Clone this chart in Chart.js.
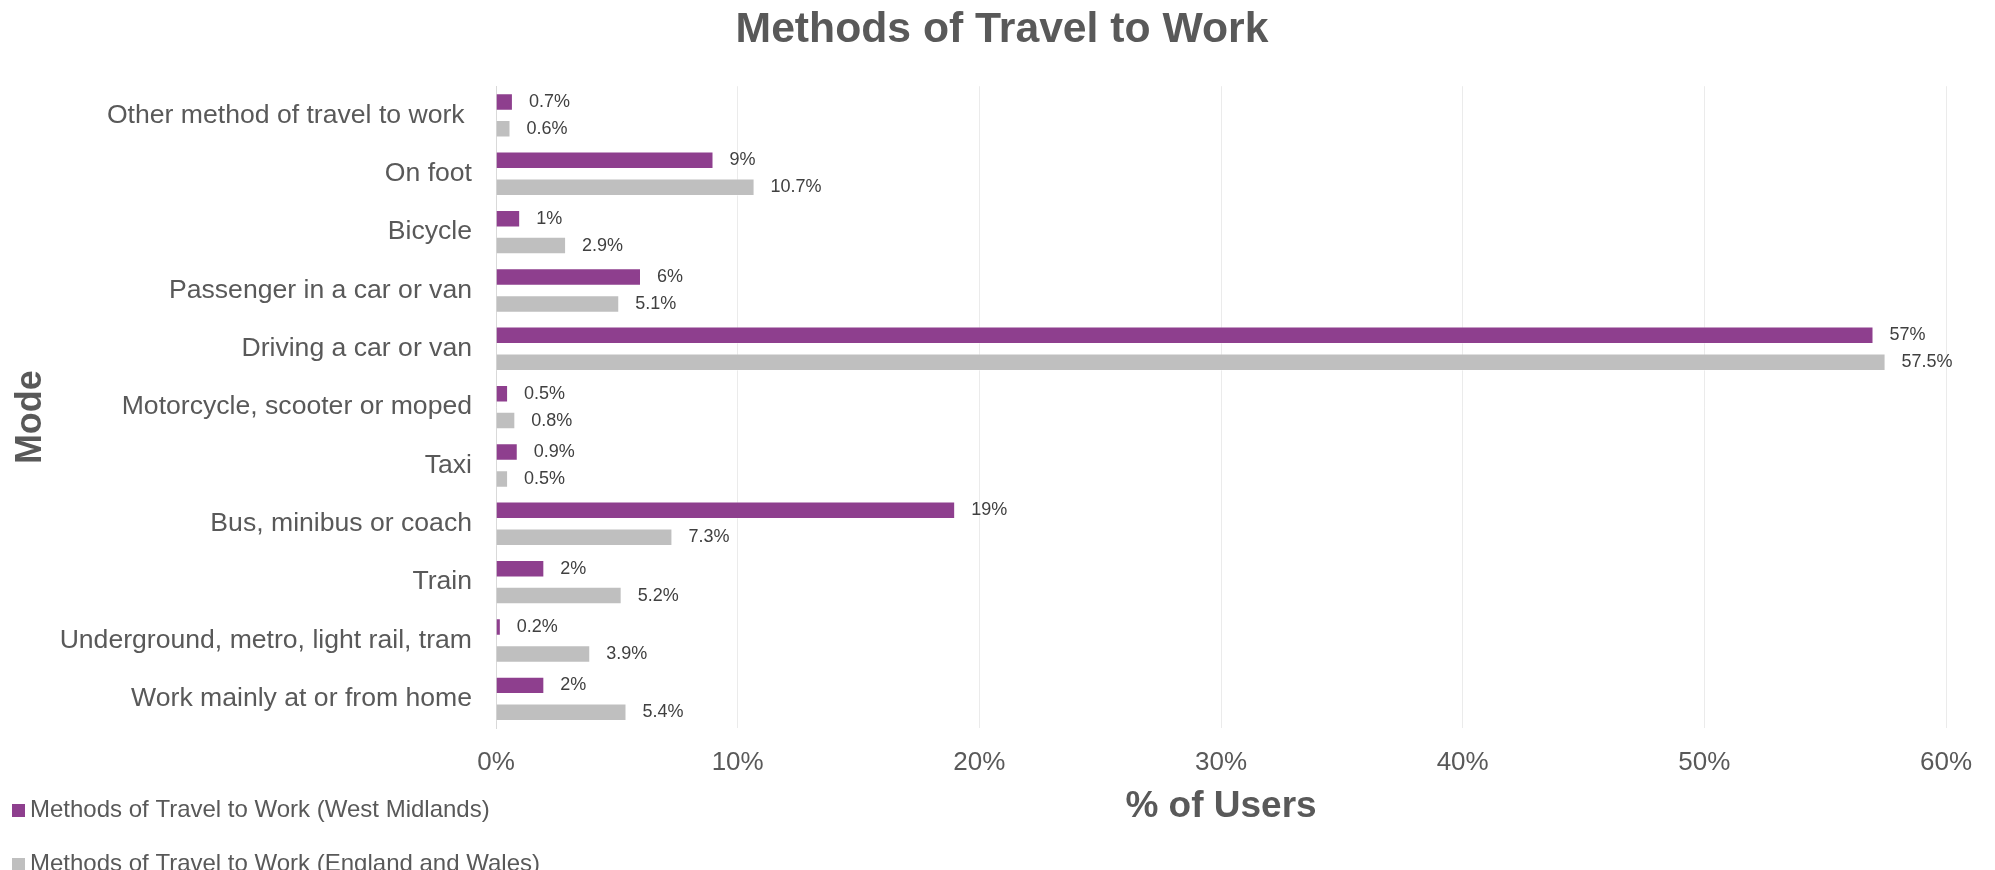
<!DOCTYPE html>
<html>
<head>
    <title>Methods of Travel to Work</title>
    <script src="https://cdn.jsdelivr.net/npm/chart.js"></script>
    <style>
        body { margin: 0; background: #fff; }
        #wrap { width: 1995px; height: 870px; }
    </style>
</head>
<body>
    <div id="wrap"><canvas id="travelChart"></canvas></div>

    <script>
        const modes = [
            'Other method of travel to work ',
            'On foot',
            'Bicycle',
            'Passenger in a car or van',
            'Driving a car or van',
            'Motorcycle, scooter or moped',
            'Taxi',
            'Bus, minibus or coach',
            'Train',
            'Underground, metro, light rail, tram',
            'Work mainly at or from home'
        ];
        const westMidlands = [0.7, 9, 1, 6, 57, 0.5, 0.9, 19, 2, 0.2, 2];
        const englandWales = [0.6, 10.7, 2.9, 5.1, 57.5, 0.8, 0.5, 7.3, 5.2, 3.9, 5.4];
        const xTicks = [0, 10, 20, 30, 40, 50, 60];

        const textGrey = '#595959';
        const font = 'Liberation Sans, Arial, sans-serif';

        // value labels next to each bar
        const barLabels = {
            id: 'barLabels',
            afterDatasetsDraw(chart) {
                const ctx = chart.ctx;
                ctx.save();
                ctx.font = '18px ' + font;
                ctx.fillStyle = '#404040';
                ctx.textAlign = 'left';
                ctx.textBaseline = 'middle';
                chart.data.datasets.forEach((ds, i) => {
                    chart.getDatasetMeta(i).data.forEach((bar, j) => {
                        ctx.fillText(ds.data[j] + '%', bar.x + 16, bar.y);
                    });
                });
                ctx.restore();
            }
        };

        // legend stacked in the bottom-left corner
        const cornerLegend = {
            id: 'cornerLegend',
            afterDraw(chart) {
                const ctx = chart.ctx;
                const rows = [810, 864];
                ctx.save();
                ctx.font = '24px ' + font;
                ctx.textAlign = 'left';
                ctx.textBaseline = 'middle';
                chart.data.datasets.forEach((ds, i) => {
                    const y = rows[i];
                    ctx.fillStyle = ds.backgroundColor;
                    ctx.fillRect(12, y - 6, 13, 13);
                    ctx.fillStyle = textGrey;
                    ctx.fillText(ds.label, 30, y);
                });
                ctx.restore();
            }
        };

        new Chart(document.getElementById('travelChart'), {
            type: 'bar',
            data: {
                labels: modes,
                datasets: [{
                    label: 'Methods of Travel to Work (West Midlands)',
                    data: westMidlands,
                    backgroundColor: '#8E3F8E',
                    borderColor: 'rgba(255,255,255,0.35)',
                    borderWidth: 1,
                    categoryPercentage: 0.922,
                    barPercentage: 0.65
                }, {
                    label: 'Methods of Travel to Work (England and Wales)',
                    data: englandWales,
                    backgroundColor: '#BFBFBF',
                    borderColor: 'rgba(255,255,255,0.35)',
                    borderWidth: 1,
                    categoryPercentage: 0.922,
                    barPercentage: 0.65
                }]
            },
            options: {
                indexAxis: 'y',
                responsive: true,
                maintainAspectRatio: false,
                animation: false,
                layout: { padding: { top: 0, right: 0, bottom: 0, left: 9 } },
                plugins: {
                    legend: { display: false },
                    tooltip: { enabled: false },
                    title: {
                        display: true,
                        text: 'Methods of Travel to Work',
                        color: textGrey,
                        font: { family: font, size: 42.7, weight: 'bold' },
                        padding: { top: 5, bottom: 30 }
                    }
                },
                scales: {
                    x: {
                        min: 0,
                        max: 60,
                        afterBuildTicks: (scale) => {
                            scale.ticks = xTicks.map(v => ({ value: v }));
                        },
                        afterFit: (scale) => {
                            scale.height = 142;
                            scale.paddingRight = 49;
                        },
                        grid: { color: '#EBEBEB', drawTicks: false },
                        border: { display: false },
                        ticks: {
                            padding: 19,
                            color: textGrey,
                            font: { family: font, size: 26 },
                            callback: (v) => v + '%'
                        },
                        title: {
                            display: true,
                            text: '% of Users',
                            color: textGrey,
                            font: { family: font, size: 37, weight: 'bold' },
                            padding: { top: 0, bottom: 41 }
                        }
                    },
                    y: {
                        afterFit: (scale) => { scale.width = 487; },
                        grid: { display: false, drawTicks: false },
                        border: { display: true, color: '#D9D9D9', width: 1 },
                        ticks: {
                            padding: 24,
                            color: textGrey,
                            font: { family: font, size: 26.6 }
                        },
                        title: {
                            display: true,
                            text: 'Mode  ',
                            color: textGrey,
                            font: { family: font, size: 36, weight: 'bold' },
                            padding: { top: 0, bottom: 0 }
                        }
                    }
                }
            },
            plugins: [barLabels, cornerLegend]
        });
    </script>
</body>
</html>
